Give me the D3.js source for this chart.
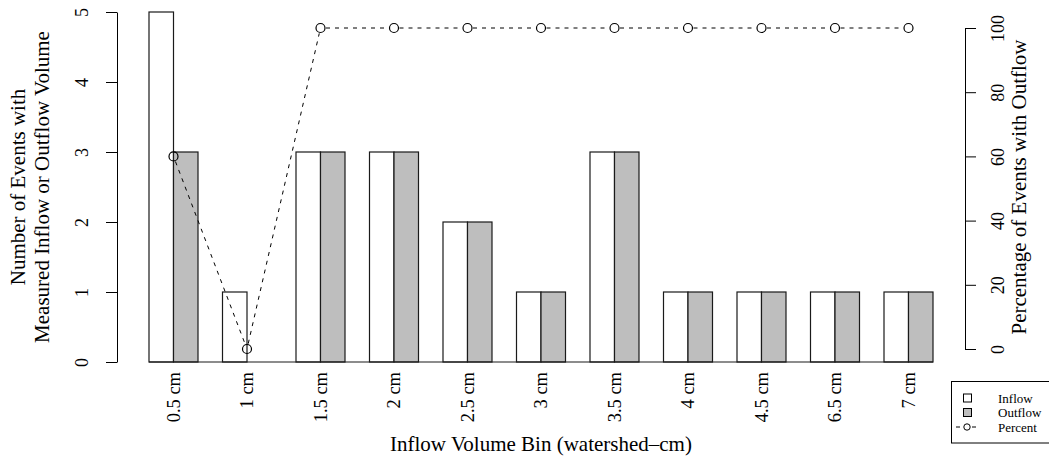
<!DOCTYPE html>
<html>
<head>
<meta charset="utf-8">
<script src="https://cdn.jsdelivr.net/npm/d3@7"></script>
<style>
  html, body { margin: 0; padding: 0; background: #fff; }
  svg { display: block; }
  text { font-family: "Liberation Serif", "Times New Roman", serif; fill: #000; }
</style>
</head>
<body>
<svg id="chart" width="1049" height="460"></svg>
<script>
// Inflow volume bins and event counts
const categories = ["0.5 cm", "1 cm", "1.5 cm", "2 cm", "2.5 cm", "3 cm", "3.5 cm", "4 cm", "4.5 cm", "6.5 cm", "7 cm"];
const seriesNames = ["Inflow", "Outflow"];
const inflowCounts = [5, 1, 3, 3, 2, 1, 3, 1, 1, 1, 1];
const outflowCounts = [3, 0, 3, 3, 2, 1, 3, 1, 1, 1, 1];
const percentOutflow = [60, 0, 100, 100, 100, 100, 100, 100, 100, 100, 100];
const leftTicks = [0, 1, 2, 3, 4, 5];
const rightTicks = [0, 20, 40, 60, 80, 100];

const fills = { Inflow: "#ffffff", Outflow: "#bebebe" };

const svg = d3.select("#chart");

// Scales
const x = d3.scaleBand().domain(categories).range([149, 933]).paddingInner(1 / 3).paddingOuter(0);
const xs = d3.scaleBand().domain(seriesNames).range([0, x.bandwidth()]);
const yL = d3.scaleLinear().domain([0, 5]).range([362, 12]);
const yR = d3.scaleLinear().domain([0, 100]).range([349, 28]);
const plotCenterX = (117 + 965) / 2;
const plotCenterY = (yL(0) + yL(5)) / 2;

const rows = categories.map((c, i) => ({ cat: c, Inflow: inflowCounts[i], Outflow: outflowCounts[i], pct: percentOutflow[i] }));

// Bars
const groups = svg.append("g").selectAll("g").data(rows).join("g")
  .attr("transform", d => `translate(${x(d.cat)},0)`);
groups.selectAll("rect")
  .data(d => seriesNames.map(s => ({ s, v: d[s] })))
  .join("rect")
  .attr("x", d => xs(d.s))
  .attr("y", d => yL(d.v))
  .attr("width", xs.bandwidth())
  .attr("height", d => yL(0) - yL(d.v))
  .attr("fill", d => fills[d.s])
  .attr("stroke", "#1a1a1a")
  .attr("stroke-width", 1.2);

// Baseline under the bars
svg.append("line")
  .attr("x1", x.range()[0]).attr("x2", x.range()[1])
  .attr("y1", yL(0)).attr("y2", yL(0))
  .attr("stroke", "#1a1a1a").attr("stroke-width", 1.2);

// Left axis
const axL = svg.append("g").attr("transform", "translate(117,0)")
  .call(d3.axisLeft(yL).tickValues(leftTicks).tickSize(11).tickSizeOuter(0).tickFormat(d3.format("d")));
axL.select(".domain").attr("stroke", "#000");
axL.selectAll(".tick line").attr("stroke", "#000");
axL.selectAll(".tick text")
  .attr("font-size", 18).attr("font-family", "Liberation Serif")
  .attr("text-anchor", "middle")
  .attr("x", 0).attr("dy", 0).attr("y", 0)
  .attr("transform", "translate(-29,0) rotate(-90)");

// Right axis
const axR = svg.append("g").attr("transform", "translate(965,0)")
  .call(d3.axisRight(yR).tickValues(rightTicks).tickSize(11).tickSizeOuter(0).tickFormat(d3.format("d")));
axR.select(".domain").attr("stroke", "#000");
axR.selectAll(".tick line").attr("stroke", "#000");
axR.selectAll(".tick text")
  .attr("font-size", 18).attr("font-family", "Liberation Serif")
  .attr("text-anchor", "middle")
  .attr("x", 0).attr("dy", 0).attr("y", 0)
  .attr("transform", "translate(39,0) rotate(-90)");

// Category labels under each group
svg.append("g").selectAll("text").data(categories).join("text")
  .attr("transform", d => `translate(${x(d) + x.bandwidth() / 2 + 6},372) rotate(-90)`)
  .attr("text-anchor", "end")
  .attr("font-size", 18.5)
  .text(d => d);

// Axis titles
const yTitle = svg.append("text")
  .attr("transform", `translate(0,${plotCenterY}) rotate(-90)`)
  .attr("text-anchor", "middle").attr("font-size", 21);
yTitle.append("tspan").attr("x", 0).attr("y", 25).text("Number of Events with");
yTitle.append("tspan").attr("x", 0).attr("y", 49).text("Measured Inflow or Outflow Volume");

svg.append("text")
  .attr("transform", `translate(1026,${plotCenterY}) rotate(-90)`)
  .attr("text-anchor", "middle").attr("font-size", 21)
  .text("Percentage of Events with Outflow");

svg.append("text")
  .attr("x", plotCenterX).attr("y", 451)
  .attr("text-anchor", "middle").attr("font-size", 21)
  .text("Inflow Volume Bin (watershed\u2013cm)");

// Percent line (points joined by dashed segments that stop short of each marker)
const r = 4.5;
const pts = rows.map(d => [x(d.cat) + x.bandwidth() / 2, yR(d.pct)]);
const segs = d3.pairs(pts).map(([a, b]) => {
  const dx = b[0] - a[0], dy = b[1] - a[1];
  const L = Math.hypot(dx, dy), g = r + 1;
  return [[a[0] + dx * g / L, a[1] + dy * g / L], [b[0] - dx * g / L, b[1] - dy * g / L]];
});
svg.append("g").selectAll("line").data(segs).join("line")
  .attr("x1", d => d[0][0]).attr("y1", d => d[0][1])
  .attr("x2", d => d[1][0]).attr("y2", d => d[1][1])
  .attr("stroke", "#000").attr("stroke-width", 1).attr("stroke-dasharray", "4,5");
svg.append("g").selectAll("circle").data(pts).join("circle")
  .attr("cx", d => d[0]).attr("cy", d => d[1]).attr("r", r)
  .attr("fill", "none").attr("stroke", "#000").attr("stroke-width", 1.2);

// Legend
const lg = svg.append("g");
lg.append("rect").attr("x", 951.5).attr("y", 381.5).attr("width", 120).attr("height", 61.5)
  .attr("fill", "#fff").attr("stroke", "#000");
const legendItems = ["Inflow", "Outflow", "Percent"];
legendItems.forEach((name, i) => {
  const cy = 398 + i * 14.5;
  if (name === "Percent") {
    lg.append("line").attr("x1", 956).attr("x2", 979).attr("y1", cy).attr("y2", cy)
      .attr("stroke", "#000").attr("stroke-dasharray", "4,4");
    lg.append("circle").attr("cx", 967).attr("cy", cy).attr("r", 3.2)
      .attr("fill", "#fff").attr("stroke", "#000");
  } else {
    lg.append("rect").attr("x", 963.5).attr("y", cy - 4).attr("width", 8).attr("height", 8)
      .attr("fill", fills[name]).attr("stroke", "#000");
  }
  lg.append("text").attr("x", 998).attr("y", cy + 4.5).attr("font-size", 13).text(name);
});
</script>
</body>
</html>
